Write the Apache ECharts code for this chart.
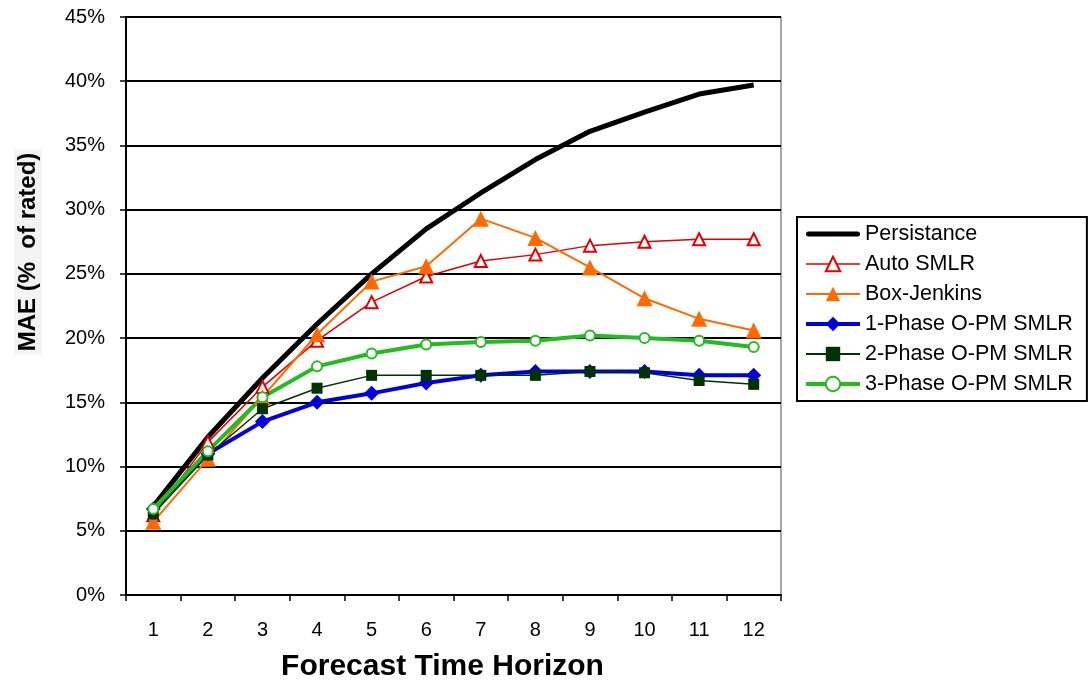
<!DOCTYPE html>
<html>
<head>
<meta charset="utf-8">
<script src="https://cdn.jsdelivr.net/npm/echarts@6/dist/echarts.min.js"></script>
<style>html,body{margin:0;padding:0;background:#fff;}#c{width:1089px;height:685px;}</style>
</head>
<body>
<div id="c"></div>
<script>
const categories = ['1','2','3','4','5','6','7','8','9','10','11','12'];
const yTicks = [0,5,10,15,20,25,30,35,40,45];
const persistance = [6.9, 12.3, 16.9, 21.1, 25.0, 28.5, 31.3, 33.9, 36.1, 37.6, 39.0, 39.7];
const autoSmlr    = [6.2, 11.9, 16.2, 19.8, 22.8, 24.8, 26.0, 26.5, 27.2, 27.5, 27.7, 27.7];
const boxJenkins  = [5.7, 10.6, 15.4, 20.3, 24.4, 25.6, 29.3, 27.8, 25.5, 23.1, 21.5, 20.6];
const phase1      = [6.7, 11.0, 13.5, 15.0, 15.7, 16.5, 17.1, 17.4, 17.4, 17.4, 17.1, 17.1];
const phase2      = [6.3, 10.9, 14.5, 16.1, 17.1, 17.1, 17.1, 17.1, 17.4, 17.3, 16.7, 16.4];
const phase3      = [6.7, 11.2, 15.4, 17.8, 18.8, 19.5, 19.7, 19.8, 20.2, 20.0, 19.8, 19.3];
const seriesNames = ['Persistance','Auto SMLR','Box-Jenkins','1-Phase O-PM SMLR','2-Phase O-PM SMLR','3-Phase O-PM SMLR'];

const FONT = '"Liberation Sans", Arial, sans-serif';
const chart = echarts.init(document.getElementById('c'), null, {renderer: 'canvas'});
chart.setOption({
  animation: false,
  backgroundColor: '#fff',
  textStyle: {fontFamily: FONT},
  grid: {left: 126, top: 17, width: 655, height: 578, containLabel: false, outerBoundsMode: 'none',
    show: true, borderColor: '#8a8a8a', borderWidth: 1.5, backgroundColor: 'transparent'},
  legend: {
    orient: 'vertical',
    left: 797, top: 217,
    padding: [6, 14, 6, 7],
    itemGap: 8,
    itemWidth: 54, itemHeight: 18,
    borderColor: '#000', borderWidth: 2,
    textStyle: {fontFamily: FONT, fontSize: 21.5, color: '#000', lineHeight: 22},
    data: [
      {name: seriesNames[0], icon: 'path://M2.5,0 L51.5,0 A2.5,2.5 0 0 1 51.5,5 L2.5,5 A2.5,2.5 0 0 1 2.5,0 Z'},
      {name: seriesNames[1], lineStyle: {width: 1.5}},
      {name: seriesNames[2], lineStyle: {width: 2}},
      {name: seriesNames[3], lineStyle: {width: 4}},
      {name: seriesNames[4], lineStyle: {width: 2}},
      {name: seriesNames[5], lineStyle: {width: 4}}
    ]
  },
  xAxis: {
    type: 'category',
    data: categories,
    boundaryGap: true,
    axisLine: {lineStyle: {color: '#000', width: 2}},
    axisTick: {show: true, length: 6, inside: false, lineStyle: {color: '#000', width: 1.5}},
    axisLabel: {fontFamily: FONT, fontSize: 20, color: '#000', margin: 25},
    name: 'Forecast Time Horizon',
    nameLocation: 'middle',
    nameGap: 57,
    nameTextStyle: {fontFamily: FONT, fontSize: 30, fontWeight: 'bold', color: '#000', padding: [0, 22, 0, 0]},
    splitLine: {show: false}
  },
  yAxis: {
    type: 'value',
    min: 0, max: 45, interval: 5,
    axisLine: {show: true, lineStyle: {color: '#000', width: 2}},
    axisTick: {show: true, length: 6, lineStyle: {color: '#000', width: 1.5}},
    axisLabel: {fontFamily: FONT, fontSize: 20, color: '#000', margin: 21,
      formatter: v => (yTicks.indexOf(v) >= 0 ? v + '%' : '')},
    splitLine: {show: true, lineStyle: {color: '#000', width: 2}}
  },
  graphic: [{
    type: 'text',
    x: 28, y: 252,
    rotation: Math.PI / 2,
    style: {
      text: 'MAE (%  of rated)',
      fontFamily: FONT, fontSize: 24, fontWeight: 'bold', fill: '#000',
      align: 'center', verticalAlign: 'middle',
      backgroundColor: '#f3f3f3', padding: [2, 3]
    }
  }],
  series: [
    {name: seriesNames[0], type: 'line', data: persistance, symbol: 'none',
      lineStyle: {color: '#000', width: 5}, itemStyle: {color: '#000'}},
    {name: seriesNames[1], type: 'line', data: autoSmlr, symbol: 'triangle', symbolSize: 12,
      lineStyle: {color: '#e00000', width: 1.5},
      itemStyle: {color: '#fff', borderColor: '#e00000', borderWidth: 2}},
    {name: seriesNames[2], type: 'line', data: boxJenkins, symbol: 'triangle', symbolSize: 16,
      lineStyle: {color: '#ff6a00', width: 2},
      itemStyle: {color: '#ff6a00', borderColor: '#ff6a00', borderWidth: 0}},
    {name: seriesNames[3], type: 'line', data: phase1, symbol: 'diamond', symbolSize: 15,
      lineStyle: {color: '#0000dd', width: 4},
      itemStyle: {color: '#0000dd', borderWidth: 0}},
    {name: seriesNames[4], type: 'line', data: phase2, symbol: 'rect', symbolSize: 11,
      lineStyle: {color: '#003300', width: 1.5},
      itemStyle: {color: '#003300', borderWidth: 0}},
    {name: seriesNames[5], type: 'line', data: phase3, symbol: 'circle', symbolSize: 10,
      lineStyle: {color: '#22bb22', width: 4},
      itemStyle: {color: '#fff', borderColor: '#22bb22', borderWidth: 2}}
  ]
});
</script>
</body>
</html>
